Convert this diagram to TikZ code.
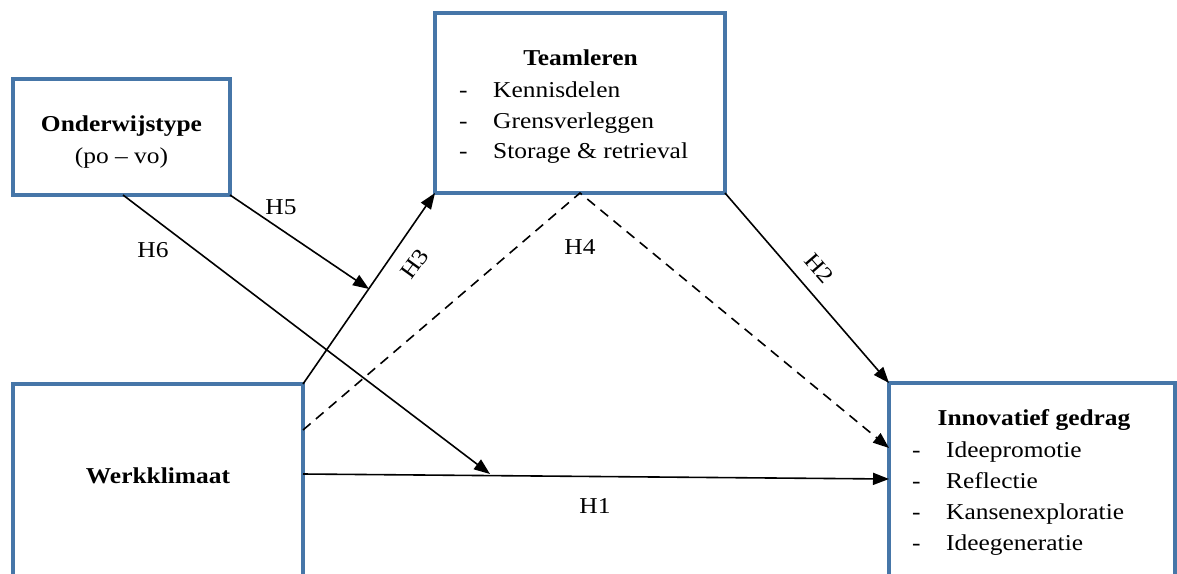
\documentclass[tikz,border=0pt]{standalone}
\usepackage{fontspec}
\setmainfont{Liberation Serif}[FakeStretch=1.12]
\usetikzlibrary{arrows.meta,calc}
\definecolor{boxblue}{RGB}{70,118,168}
\tikzset{
  box/.style={draw=boxblue, line width=4pt, rectangle, anchor=north west, inner sep=0pt, outer sep=0pt},
  conn/.style={line width=1.6pt, -{Triangle[length=16pt,width=12pt]}},
  dashconn/.style={conn, dash pattern=on 10pt off 7pt},
  txt/.style={inner sep=0pt, anchor=base west, font=\fontsize{22.7}{31}\selectfont},
  ctxt/.style={txt, anchor=base},
  btxt/.style={ctxt, font=\fontsize{22.7}{31}\selectfont\bfseries},
  hlab/.style={inner sep=0pt, anchor=center, font=\fontsize{22.7}{31}\selectfont},
}
\begin{document}
\begin{tikzpicture}[x=1pt,y=-1pt]
\useasboundingbox (0,0) rectangle (1177,573);
\clip (0,0) rectangle (1177,573);
\fill[white] (0,0) rectangle (1177,573);

% boxes
\node[box, minimum width=217pt, minimum height=116pt] (ow) at (13,79) {};
\node[box, minimum width=290pt, minimum height=180pt] (tl) at (435,13) {};
\node[box, minimum width=290pt, minimum height=240pt] (wk) at (13,384) {};
\node[box, minimum width=286pt, minimum height=240pt] (in) at (889,383) {};

% box texts
\node[btxt] (owt) at (121.5,131.5) {Onderwijstype};
\node[ctxt] (ows) at (121.5,163) {(po -- vo)};

\node[btxt] (tlt) at (580.5,65) {Teamleren};
\node[txt] (tld1) at (459,97) {-};
\node[txt] (tl1) at (493,97) {Kennisdelen};
\node[txt] (tld2) at (459,128) {-};
\node[txt] (tl2) at (493,128) {Grensverleggen};
\node[txt] (tld3) at (459,158) {-};
\node[txt] (tl3) at (493,158) {Storage \& retrieval};

\node[btxt] (wkt) at (158,483) {Werkklimaat};

\node[btxt] (int) at (1034,425) {Innovatief gedrag};
\node[txt] (ind1) at (912,457) {-};
\node[txt] (in1) at (946,457) {Ideepromotie};
\node[txt] (ind2) at (912,488) {-};
\node[txt] (in2) at (946,488) {Reflectie};
\node[txt] (ind3) at (912,519) {-};
\node[txt] (in3) at (946,519) {Kansenexploratie};
\node[txt] (ind4) at (912,550) {-};
\node[txt] (in4) at (946,550) {Ideegeneratie};

% free-end coordinates
\coordinate (h1s) at ($(wk.north east)+(0,90)$);
\coordinate (h1e) at ($(in.north west)+(0,96)$);
\coordinate (h4s) at ($(wk.north east)+(0,46)$);
\coordinate (h4m) at ($(tl.south west)+(145,0)$);
\coordinate (h4e) at ($(in.north west)+(0,65)$);
\coordinate (h6s) at ($(ow.south west)+(110,0)$);
\coordinate (h6e) at (490,474);
\coordinate (h5e) at (369,289);

% connectors
\draw[conn] (h1s) -- (h1e);
\draw[conn] (wk.north east) -- (tl.south west);
\draw[conn] (tl.south east) -- (in.north west);
\draw[dashconn] (h4s) -- (h4m) -- (h4e);
\draw[conn] (ow.south east) -- (h5e);
\draw[conn] (h6s) -- (h6e);

% labels
\node[hlab] (l1) at (595,506) {H1};
\node[hlab, rotate=-49] (l2) at (819,268) {H2};
\node[hlab, rotate=54] (l3) at (415,264) {H3};
\node[hlab] (l4) at (580,247) {H4};
\node[hlab] (l5) at (281,207) {H5};
\node[hlab] (l6) at (153,250) {H6};
\end{tikzpicture}
\end{document}
